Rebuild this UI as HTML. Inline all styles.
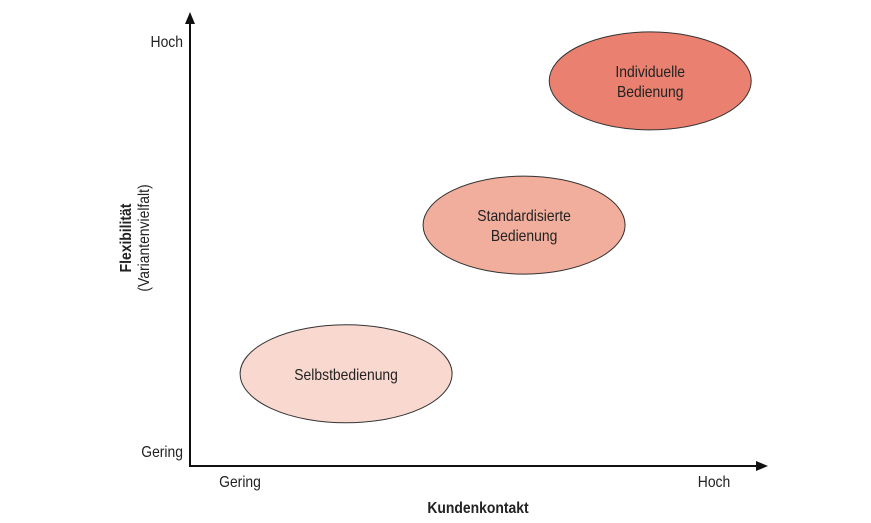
<!DOCTYPE html>
<html><head><meta charset="utf-8">
<style>
html,body{margin:0;padding:0;background:#fff;}
svg{display:block;}
text{font-family:"Liberation Sans Narrow","Liberation Sans",sans-serif;fill:#222;}
</style></head>
<body>
<svg id="chart" width="871" height="523" viewBox="0 0 871 523">
  <g id="axes">
    <line x1="190" y1="466" x2="190" y2="22" stroke="#111" stroke-width="2"/>
    <polygon points="185,24 190,12 195,24" fill="#111"/>
    <line x1="189" y1="466" x2="758" y2="466" stroke="#111" stroke-width="2"/>
    <polygon points="756,461 768,466 756,471" fill="#111"/>
    <g transform="translate(183,47) scale(0.87,1)"><text font-size="16" text-anchor="end">Hoch</text></g>
    <g transform="translate(183,457) scale(0.87,1)"><text font-size="16" text-anchor="end">Gering</text></g>
    <g transform="translate(240,487) scale(0.87,1)"><text font-size="16" text-anchor="middle">Gering</text></g>
    <g transform="translate(714,487) scale(0.87,1)"><text font-size="16" text-anchor="middle">Hoch</text></g>
    <g transform="translate(478,513) scale(0.87,1)"><text font-size="16" font-weight="bold" text-anchor="middle">Kundenkontakt</text></g>
    <g transform="translate(131,238) rotate(-90) scale(0.87,1)">
      <text x="0" y="0" font-size="16" font-weight="bold" text-anchor="middle">Flexibilität</text>
      <text x="0" y="18" font-size="16" text-anchor="middle">(Variantenvielfalt)</text>
    </g>
  </g>
  <g id="marks"></g>
</svg>
<script>
const labels = [["Selbstbedienung"], ["Standardisierte","Bedienung"], ["Individuelle","Bedienung"]];
const kontakt = [27.1, 58.0, 79.9];
const flexibilitaet = [20.4, 53.3, 85.2];
const fills = ["#f8d8cf", "#f1ae9c", "#e98070"];

function xScale(v){ return 190 + v/100*576; }
function yScale(v){ return 466 - v/100*452; }

const g = document.getElementById('marks');
const ns = "http://www.w3.org/2000/svg";
for (let i = 0; i < labels.length; i++) {
  const cx = xScale(kontakt[i]), cy = yScale(flexibilitaet[i]);
  const e = document.createElementNS(ns, 'ellipse');
  e.setAttribute('cx', cx); e.setAttribute('cy', cy);
  e.setAttribute('rx', i === 0 ? 106 : 101); e.setAttribute('ry', 49);
  e.setAttribute('fill', fills[i]); e.setAttribute('stroke', '#333'); e.setAttribute('stroke-width', '1');
  
  
  g.appendChild(e);
  const lines = labels[i];
  const lh = 20;
  const y0 = cy - (lines.length - 1) * lh / 2 + 6;
  lines.forEach((s, j) => {
    const tg = document.createElementNS(ns, 'g');
    tg.setAttribute('transform', 'translate(' + cx + ',' + (y0 + j * lh) + ') scale(0.87,1)');
    const t = document.createElementNS(ns, 'text');
    t.setAttribute('font-size', '16'); t.setAttribute('text-anchor', 'middle');
    t.textContent = s;
    
    
    tg.appendChild(t);
    g.appendChild(tg);
  });
}
</script>
</body></html>
